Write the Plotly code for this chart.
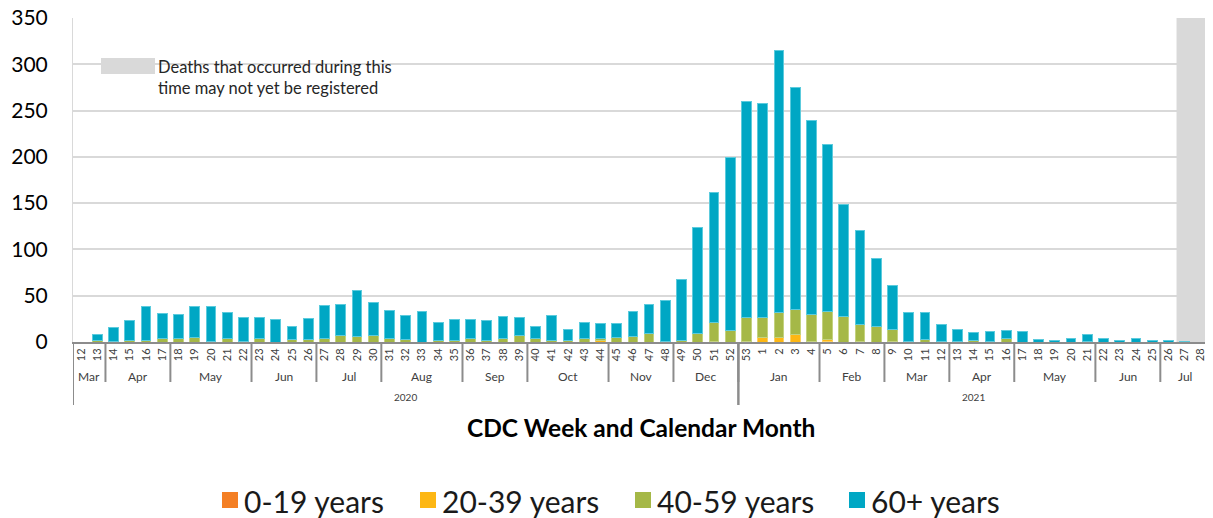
import plotly.graph_objects as go

# ---------------- data ----------------
weeks = ["12", "13", "14", "15", "16", "17", "18", "19", "20", "21", "22", "23", "24", "25",
         "26", "27", "28", "29", "30", "31", "32", "33", "34", "35", "36", "37", "38", "39",
         "40", "41", "42", "43", "44", "45", "46", "47", "48", "49", "50", "51", "52",
         "53", "1", "2", "3", "4", "5", "6", "7", "8", "9", "10", "11", "12", "13", "14",
         "15", "16", "17", "18", "19", "20", "21", "22", "23", "24", "25", "26", "27", "28"]

months = ["Mar", "Mar", "Apr", "Apr", "Apr", "Apr", "May", "May", "May", "May", "May",
          "Jun", "Jun", "Jun", "Jun", "Jul", "Jul", "Jul", "Jul", "Aug", "Aug", "Aug", "Aug", "Aug",
          "Sep", "Sep", "Sep", "Sep", "Oct", "Oct", "Oct", "Oct", "Oct", "Nov", "Nov", "Nov", "Nov",
          "Dec", "Dec", "Dec", "Dec",
          "Jan", "Jan", "Jan", "Jan", "Jan", "Feb", "Feb", "Feb", "Feb", "Mar", "Mar", "Mar", "Mar",
          "Apr", "Apr", "Apr", "Apr", "May", "May", "May", "May", "May", "Jun", "Jun", "Jun", "Jun",
          "Jul", "Jul", "Jul"]

years = ["2020"] * 41 + ["2021"] * 29

age_0_19 = [0] * 46 + [1] + [0] * 23

age_20_39 = [0, 0, 0, 0, 0, 0, 0, 0, 0, 0, 0, 0, 0, 0, 0, 0, 0, 0, 0, 0, 0, 0, 0, 0, 0, 0, 0, 0,
             0, 0, 0, 0, 2, 0, 0, 0, 0, 0, 0, 1, 0,
             1, 5, 5, 8, 1, 2, 0, 1, 0, 1, 0, 0, 0, 0, 0, 0, 0, 0, 0, 0, 0, 0, 0, 0, 0, 0, 0, 0, 0]

age_40_59 = [0, 2, 1, 2, 2, 4, 4, 5, 1, 4, 1, 4, 0, 3, 3, 4, 7, 6, 7, 4, 3, 0, 2, 2, 4, 2, 4, 7,
             4, 2, 2, 4, 2, 5, 6, 9, 1, 2, 9, 20, 12,
             26, 22, 27, 27, 29, 30, 28, 18, 17, 13, 1, 3, 1, 1, 2, 1, 4, 0, 0, 0, 0, 1, 0, 0, 0, 0, 0, 0, 0]

age_60_plus = [0, 6, 15, 21, 36, 27, 26, 33, 37, 28, 25, 22, 24, 14, 22, 35, 33, 50, 36, 30, 26, 33,
               19, 22, 20, 21, 24, 20, 13, 27, 11, 17, 16, 15, 27, 32, 44, 66, 115, 140, 187,
               233, 231, 283, 240, 209, 180, 121, 101, 73, 47, 31, 29, 18, 12, 8, 10, 8, 11, 3, 2, 4,
               7, 4, 2, 4, 2, 2, 1, 0]

series_names = ["0-19 years", "20-39 years", "40-59 years", "60+ years"]
series_values = [age_0_19, age_20_39, age_40_59, age_60_plus]
series_colors = ["#F47F24", "#FDB714", "#A5B847", "#00A7C4"]
series_edges = ["#F9A868", "#FDD061", "#C4D27F", "#5CCBDD"]

FONT = "Lato"
idx = list(range(len(weeks)))
n = len(weeks)

fig = go.Figure()
for name, vals, col, edge in zip(series_names, series_values, series_colors, series_edges):
    fig.add_trace(go.Bar(x=idx, y=vals, name=name, showlegend=False,
                         marker=dict(color=col, line=dict(color=edge, width=1))))

# ---- geometry: page pixels (the html body adds an 8px offset) ----
OFF = 8
FIG_W, FIG_H = 1213 - OFF, 518 - OFF
L, R, T, B = 73 - OFF, 1209 - OFF, 18 - OFF, 342 - OFF
PW, PH = R - L, B - T


def px(xpage):
    return (xpage - OFF - L) / PW


def py(ypage):
    return (B - (ypage - OFF)) / PH


# ---- month / year groups on the category axis ----
def groups(labels, split_on_year):
    out = []
    start = 0
    for i in range(1, len(labels) + 1):
        if i == len(labels) or labels[i] != labels[start] or (split_on_year and years[i] != years[start]):
            out.append((labels[start], start, i - 1))
            start = i
    return out


month_groups = groups(months, True)
year_groups = groups(years, False)

shapes = []
annotations = []
for lab, a, b in month_groups:
    annotations.append(dict(x=(a + b) / 2, y=py(376), xref="x", yref="paper", text=lab, showarrow=False,
                            font=dict(family=FONT, size=12, color="#404040"), xanchor="center", yanchor="middle"))
    if a > 0:
        shapes.append(dict(type="line", xref="x", yref="paper", x0=a - 0.5, x1=a - 0.5, y0=0, y1=py(382),
                           line=dict(color="#8c8c8c", width=2)))
for lab, a, b in year_groups:
    annotations.append(dict(x=(a + b) / 2, y=py(397), xref="x", yref="paper", text=lab, showarrow=False,
                            font=dict(family=FONT, size=10, color="#404040"), xanchor="center", yanchor="middle"))
    for xv in (a - 0.5, b + 0.5):
        shapes.append(dict(type="line", xref="x", yref="paper", x0=xv, x1=xv, y0=0, y1=py(405),
                           line=dict(color="#8c8c8c", width=2)))

# not-yet-registered band (last two weeks)
shapes.append(dict(type="rect", xref="x", yref="y", x0=n - 2 - 0.5, x1=n - 0.5, y0=0, y1=350,
                   fillcolor="#D9D9D9", line=dict(width=0), layer="between"))
# inset key
shapes.append(dict(type="rect", xref="paper", yref="paper", x0=px(101), x1=px(155),
                   y0=py(74), y1=py(58), fillcolor="#D9D9D9", line=dict(width=0)))
annotations.append(dict(x=px(156), y=py(77.5), xref="paper", yref="paper",
                        text="Deaths that occurred during this<br>time may not yet be registered",
                        showarrow=False, align="left", xanchor="left", yanchor="middle",
                        font=dict(family=FONT, size=16.5, color="#262626")))
# axis title
annotations.append(dict(x=px(641), y=py(427), xref="paper", yref="paper",
                        text="<b>CDC Week and Calendar Month</b>",
                        showarrow=False, xanchor="center", yanchor="middle",
                        font=dict(family=FONT, size=24.5, color="#000000")))

# legend (square swatches + labels)
legend_square_x = [222, 420, 635, 849]
for name, col, sx in zip(series_names, series_colors, legend_square_x):
    shapes.append(dict(type="rect", xref="paper", yref="paper", x0=px(sx), x1=px(sx + 16),
                       y0=py(508), y1=py(492), fillcolor=col, line=dict(width=0)))
    annotations.append(dict(x=px(sx + 20), y=py(501), xref="paper", yref="paper", text=name,
                            showarrow=False, xanchor="left", yanchor="middle",
                            font=dict(family=FONT, size=30, color="#1a1a1a")))

fig.update_layout(
    width=FIG_W, height=FIG_H,
    margin=dict(l=L, r=FIG_W - R, t=T, b=FIG_H - B, autoexpand=False),
    barmode="stack", bargap=0.4,
    plot_bgcolor="white", paper_bgcolor="white",
    font=dict(family=FONT, color="#262626"),
    shapes=shapes, annotations=annotations,
    showlegend=False,
)
fig.update_xaxes(range=[-0.5, n - 0.5], tickmode="array", tickvals=idx, ticktext=weeks, tickangle=-90,
                 tickfont=dict(family=FONT, size=11, color="#404040"), showgrid=False, zeroline=False,
                 showline=True, linecolor="#8c8c8c", linewidth=2, ticks="", automargin=False)
fig.update_yaxes(range=[0, 350], dtick=50, showgrid=True, gridcolor="#D9D9D9", gridwidth=2,
                 zeroline=False, showline=True, linecolor="#D9D9D9", linewidth=1,
                 tickfont=dict(family=FONT, size=21, color="#000000"), ticks="", ticklabelstandoff=20,
                 ticklabeloverflow="allow", automargin=False)

fig.write_html("out.html")
